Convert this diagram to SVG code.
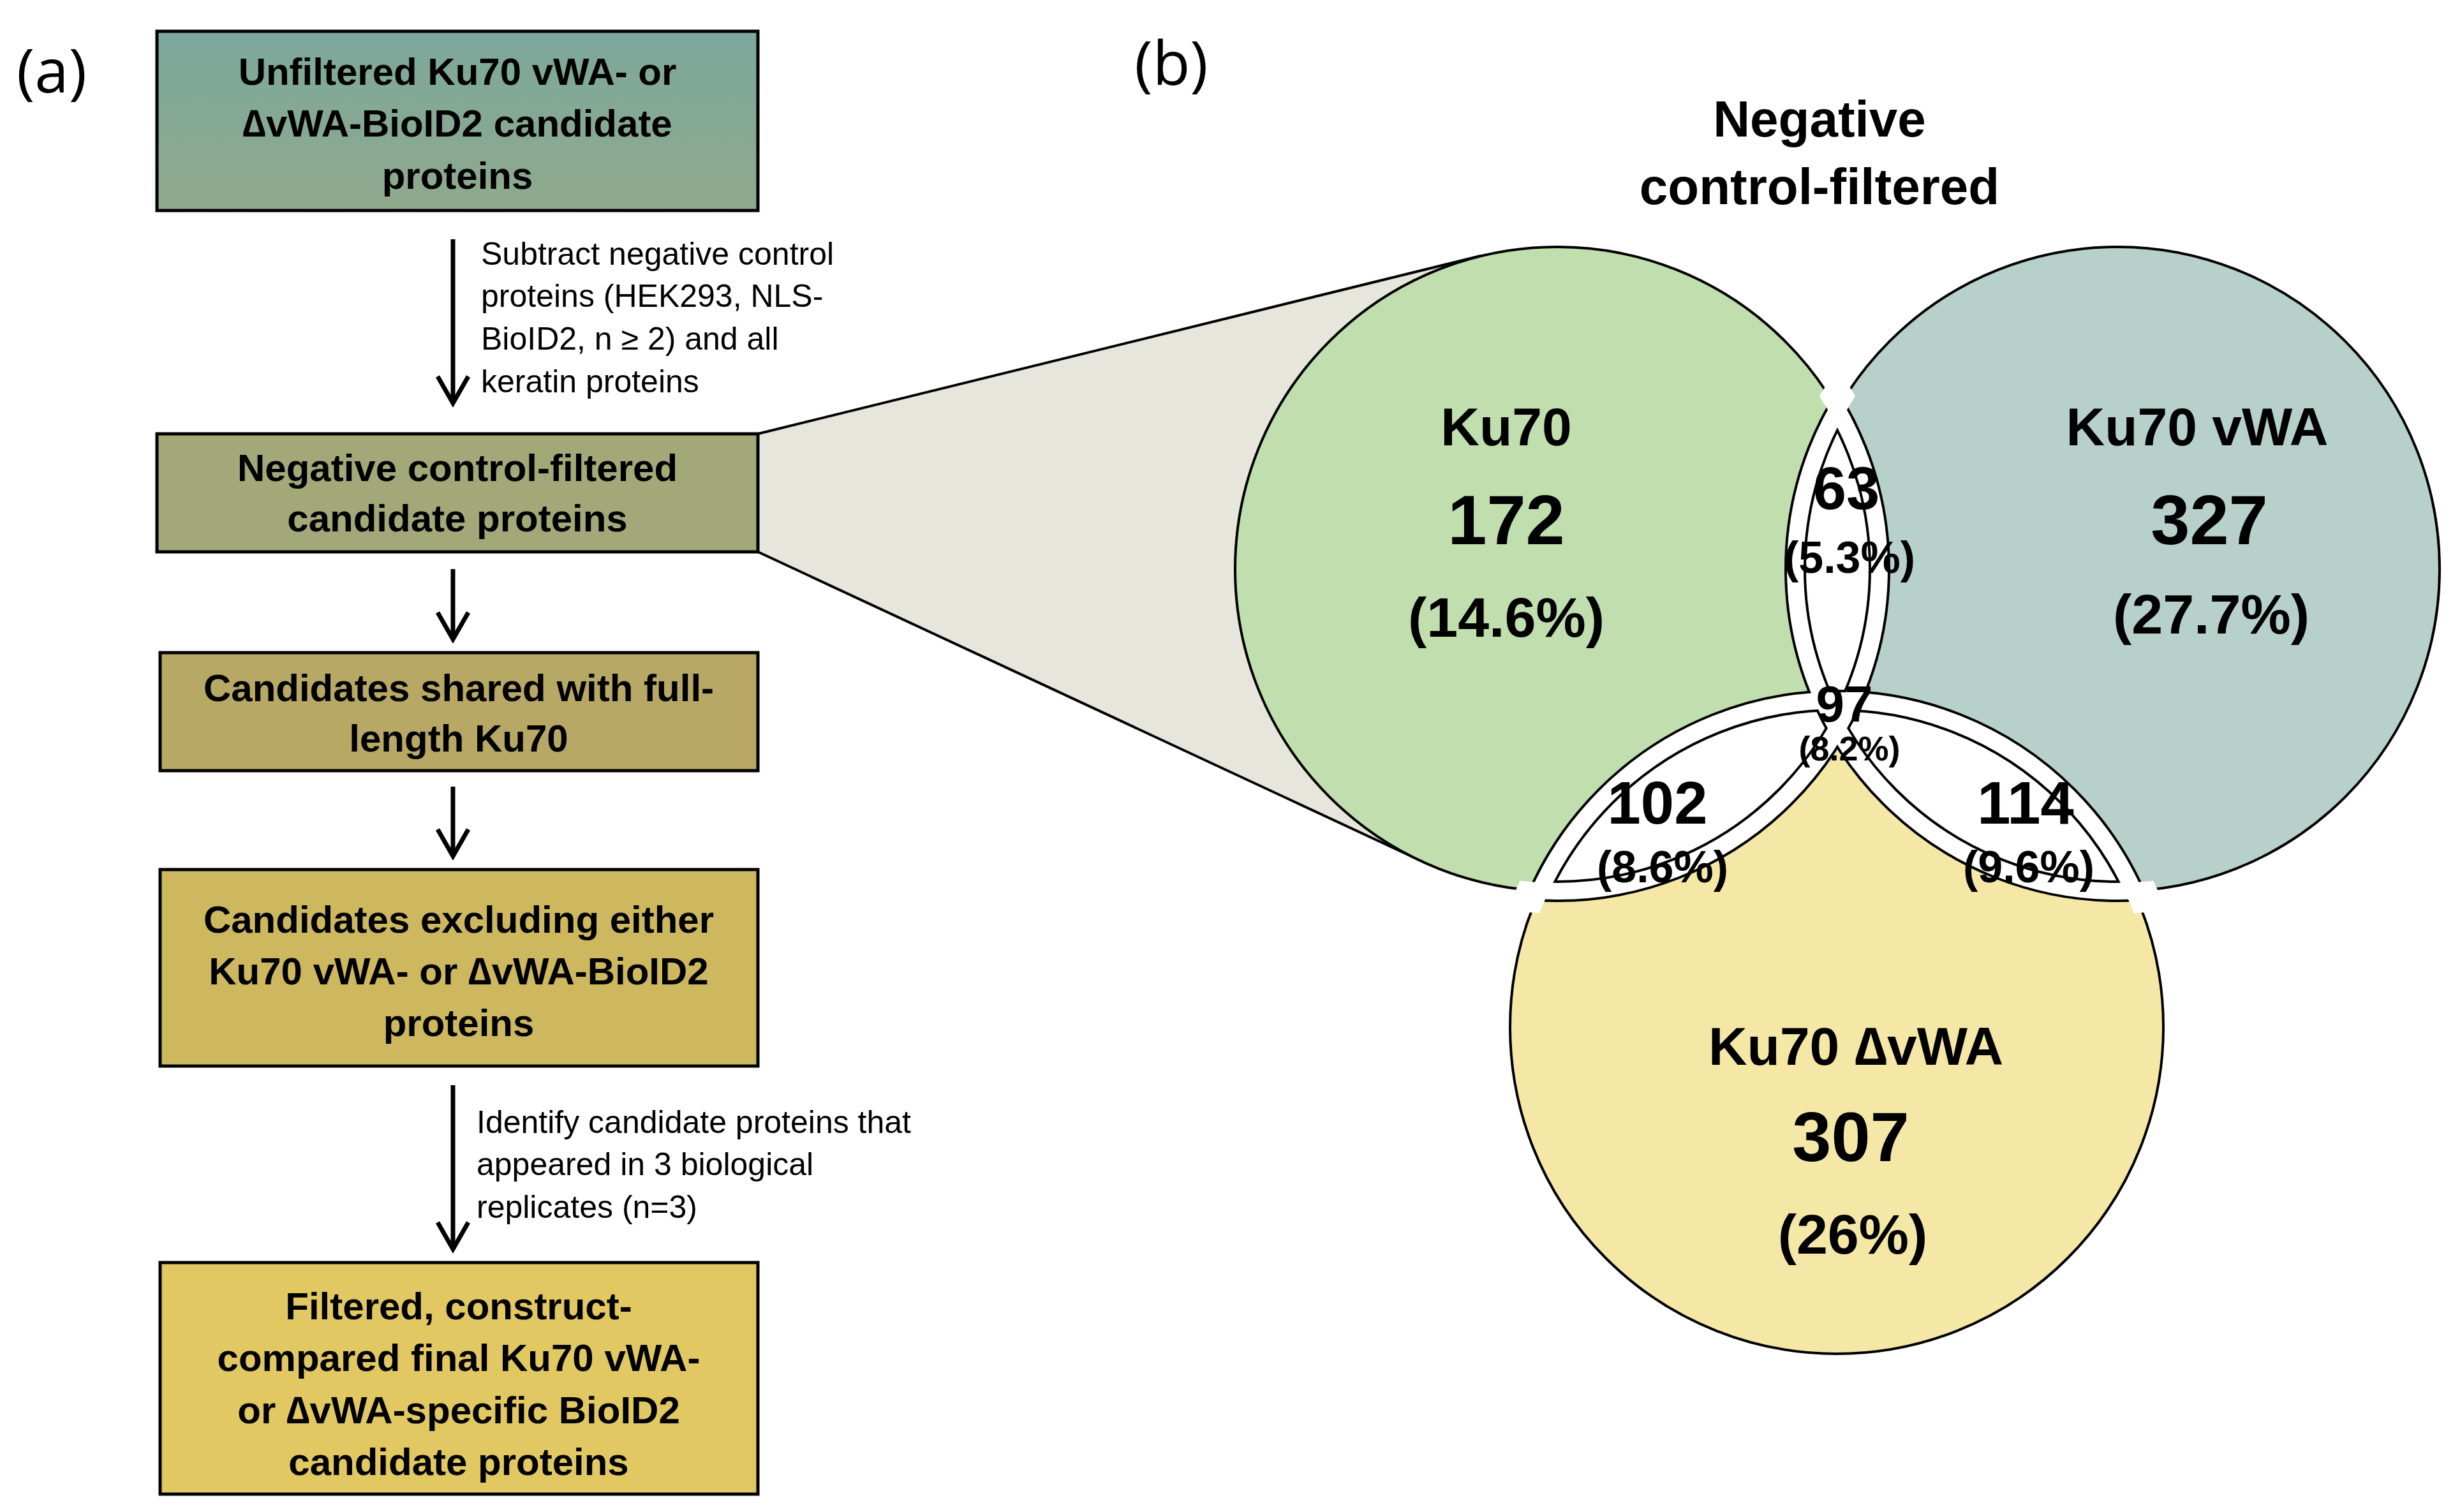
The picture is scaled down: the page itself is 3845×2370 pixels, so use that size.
<svg xmlns="http://www.w3.org/2000/svg" width="3845" height="2370" viewBox="0 0 3845 2370">
<style>
.bt{font-family:"Liberation Sans",Arial,sans-serif;font-weight:bold;font-size:60px;text-anchor:middle;fill:#000}
.an{font-family:"Liberation Sans",Arial,sans-serif;font-size:50px;fill:#000}
.pl{font-family:"Open Sans","Liberation Sans",sans-serif;font-size:96px;fill:#000}
.vt{font-family:"Liberation Sans",Arial,sans-serif;font-weight:bold;text-anchor:middle;fill:#000}
.box{stroke:#000;stroke-width:5}
.ar{stroke:#000;stroke-width:7;fill:none}
</style>
<defs>
<linearGradient id="g1" x1="0" y1="0" x2="0" y2="1"><stop offset="0" stop-color="#7ca89c"/><stop offset="1" stop-color="#8fa98c"/></linearGradient>
<marker id="ah" markerWidth="10" markerHeight="10" refX="8" refY="5" orient="auto" markerUnits="userSpaceOnUse" viewBox="0 0 10 10"><path d="M0,0 L10,5 L0,10" fill="none" stroke="#000" stroke-width="1.2"/></marker>
<marker id="a2" markerWidth="50" markerHeight="60" refX="44" refY="30" orient="auto" markerUnits="userSpaceOnUse"><path d="M2,6 L44,30 L2,54" fill="none" stroke="#000" stroke-width="7"/></marker>
<clipPath id="cA"><circle cx="2441" cy="892" r="505"/></clipPath>
<clipPath id="cB"><circle cx="3319" cy="892" r="505"/></clipPath>
<clipPath id="cC"><circle cx="2879" cy="1610" r="512"/></clipPath>
<clipPath id="cBC"><circle cx="3319" cy="892" r="505"/><circle cx="2879" cy="1610" r="512"/></clipPath>
<clipPath id="cAC"><circle cx="2441" cy="892" r="505"/><circle cx="2879" cy="1610" r="512"/></clipPath>
<clipPath id="cAB"><circle cx="2441" cy="892" r="505"/><circle cx="3319" cy="892" r="505"/></clipPath>
<clipPath id="eBC"><circle cx="3319" cy="892" r="540"/><circle cx="2879" cy="1610" r="547"/></clipPath>
<clipPath id="eAC"><circle cx="2441" cy="892" r="540"/><circle cx="2879" cy="1610" r="547"/></clipPath>
<clipPath id="eAB"><circle cx="2441" cy="892" r="540"/><circle cx="3319" cy="892" r="540"/></clipPath>
</defs>
<rect width="3845" height="2370" fill="#fff"/>
<text class="pl" x="81" y="145" text-anchor="middle">(a)</text>
<text class="pl" x="1836" y="133" text-anchor="middle">(b)</text>

<g id="funnel">
<polygon points="1188,680 2321,401 2441,892 2229,1350 1188,865" fill="#e6e6dc"/>
<line x1="1188" y1="680" x2="2321" y2="401" stroke="#000" stroke-width="4"/>
<line x1="1188" y1="865" x2="2229" y2="1350" stroke="#000" stroke-width="4"/>
</g>

<g id="connectors">
<line class="ar" x1="710" y1="375" x2="710" y2="632" marker-end="url(#a2)"/>
<line class="ar" x1="710" y1="892" x2="710" y2="1002" marker-end="url(#a2)"/>
<line class="ar" x1="710" y1="1233" x2="710" y2="1342" marker-end="url(#a2)"/>
<line class="ar" x1="710" y1="1701" x2="710" y2="1958" marker-end="url(#a2)"/>
<text class="an" x="754" y="415">Subtract negative control</text>
<text class="an" x="754" y="481">proteins (HEK293, NLS-</text>
<text class="an" x="754" y="548">BioID2, n ≥ 2) and all</text>
<text class="an" x="754" y="615">keratin proteins</text>
<text class="an" x="747" y="1776">Identify candidate proteins that</text>
<text class="an" x="747" y="1842">appeared in 3 biological</text>
<text class="an" x="747" y="1909">replicates (n=3)</text>
</g>

<g id="box1"><rect class="box" x="246" y="49" width="942" height="281" fill="url(#g1)"/>
<text class="bt" x="717" y="133">Unfiltered Ku70 vWA- or</text>
<text class="bt" x="717" y="214">∆vWA-BioID2 candidate</text>
<text class="bt" x="717" y="296">proteins</text></g>
<g id="box2"><rect class="box" x="246" y="680" width="942" height="185" fill="#a3a878"/>
<text class="bt" x="717" y="754">Negative control-filtered</text>
<text class="bt" x="717" y="833">candidate proteins</text></g>
<g id="box3"><rect class="box" x="251" y="1023" width="937" height="185" fill="#b7a865"/>
<text class="bt" x="719" y="1099">Candidates shared with full-</text>
<text class="bt" x="719" y="1178">length Ku70</text></g>
<g id="box4"><rect class="box" x="251" y="1363" width="937" height="308" fill="#cdb860"/>
<text class="bt" x="719" y="1462">Candidates excluding either</text>
<text class="bt" x="719" y="1543">Ku70 vWA- or ∆vWA-BioID2</text>
<text class="bt" x="719" y="1624">proteins</text></g>
<g id="box5"><rect class="box" x="251" y="1979" width="937" height="363" fill="#e2c862"/>
<text class="bt" x="719" y="2068">Filtered, construct-</text>
<text class="bt" x="719" y="2149">compared final Ku70 vWA-</text>
<text class="bt" x="719" y="2231">or ∆vWA-specific BioID2</text>
<text class="bt" x="719" y="2312">candidate proteins</text></g>

<g id="title">
<text class="vt" x="2852" y="214" font-size="80">Negative</text>
<text class="vt" x="2852" y="320" font-size="80">control-filtered</text>
</g>

<g id="venn">
<circle cx="2441" cy="892" r="505" fill="#c1dfae"/>
<circle cx="3319" cy="892" r="505" fill="#b8d0ca"/>
<circle cx="2879" cy="1610" r="512" fill="#f5e8a7"/>
<circle cx="3319" cy="892" r="505" fill="#fff" clip-path="url(#cA)"/>
<circle cx="2879" cy="1610" r="512" fill="#fff" clip-path="url(#cA)"/>
<circle cx="2879" cy="1610" r="512" fill="#fff" clip-path="url(#cB)"/>
<g clip-path="url(#cA)"><circle cx="2879" cy="1610" r="512" fill="#e6e8dc" clip-path="url(#cB)"/></g>
<g fill="none" stroke="#000" stroke-width="4">
<circle cx="2441" cy="892" r="505"/><circle cx="3319" cy="892" r="505"/><circle cx="2879" cy="1610" r="512"/>
</g>
<g fill="none" stroke="#000" stroke-width="34">
<circle cx="2441" cy="892" r="505" clip-path="url(#cBC)"/>
<circle cx="3319" cy="892" r="505" clip-path="url(#cAC)"/>
<circle cx="2879" cy="1610" r="512" clip-path="url(#cAB)"/>
</g>
<g fill="none" stroke="#fff" stroke-width="26">
<circle cx="2441" cy="892" r="505" clip-path="url(#eBC)"/>
<circle cx="3319" cy="892" r="505" clip-path="url(#eAC)"/>
<circle cx="2879" cy="1610" r="512" clip-path="url(#eAB)"/>
</g>
</g>

<g id="labels">
<text class="vt" x="2361" y="698" font-size="84">Ku70</text>
<text class="vt" x="2361" y="853" font-size="110">172</text>
<text class="vt" x="2361" y="998" font-size="88">(14.6%)</text>
<text class="vt" x="3444" y="698" font-size="84">Ku70 vWA</text>
<text class="vt" x="3463" y="853" font-size="110">327</text>
<text class="vt" x="3466" y="993" font-size="88">(27.7%)</text>
<text class="vt" x="2894" y="798" font-size="94">63</text>
<text class="vt" x="2899" y="898" font-size="70">(5.3%)</text>
<text class="vt" x="2891" y="1131" font-size="80">97</text>
<text class="vt" x="2899" y="1192" font-size="54">(8.2%)</text>
<text class="vt" x="2598" y="1291" font-size="94">102</text>
<text class="vt" x="2606" y="1383" font-size="70">(8.6%)</text>
<text class="vt" x="3175" y="1291" font-size="94">114</text>
<text class="vt" x="3180" y="1383" font-size="70">(9.6%)</text>
<text class="vt" x="2909" y="1669" font-size="84">Ku70 ∆vWA</text>
<text class="vt" x="2901" y="1820" font-size="110">307</text>
<text class="vt" x="2904" y="1965" font-size="88">(26%)</text>
</g>
</svg>
